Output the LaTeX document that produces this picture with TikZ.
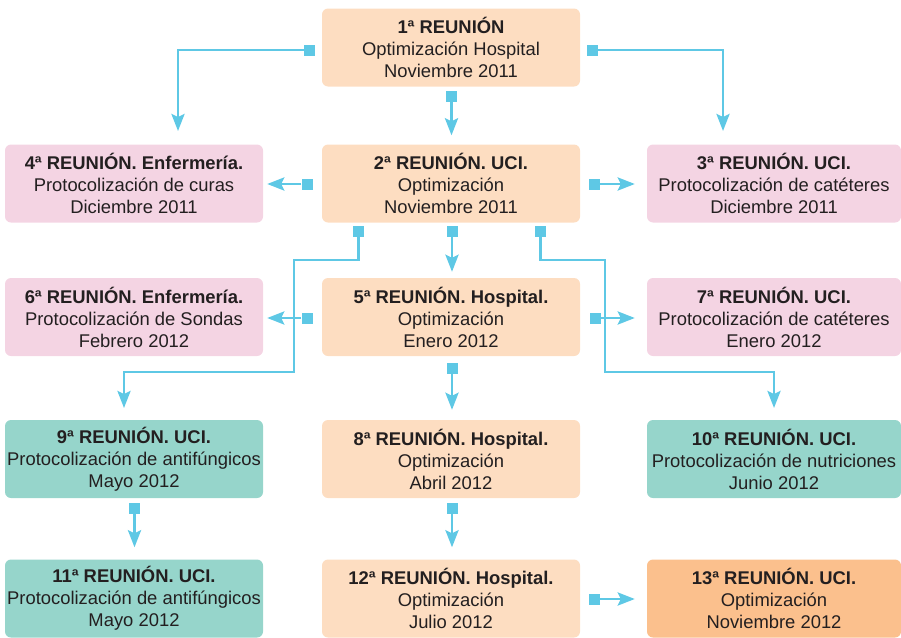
\documentclass[tikz,border=0pt]{standalone}
\usepackage{fontspec}
\setmainfont{Liberation Sans}
\usetikzlibrary{arrows.meta}
\definecolor{peach}{RGB}{253,221,193}
\definecolor{pinkb}{RGB}{244,212,227}
\definecolor{tealb}{RGB}{150,213,203}
\definecolor{orangeb}{RGB}{251,192,141}
\definecolor{connc}{RGB}{94,200,229}
\definecolor{txt}{RGB}{35,31,32}
\tikzset{
  box/.style={rounded corners=6pt, minimum height=78pt, minimum width=258pt,
    align=center, inner sep=0pt, text=txt, font=\fontsize{18.4}{22}\selectfont},
  boxr/.style={box, minimum width=254pt},
  sq/.style={fill=connc, minimum size=11pt, inner sep=0pt, draw=none},
  conn/.style={draw=connc, line width=2.8pt,
    -{Stealth[length=17pt,width=13pt,inset=3pt]}},
}
\begin{document}
\begin{tikzpicture}[x=1pt,y=-1pt]
\useasboundingbox (0,0) rectangle (901,637);
% boxes
\node[box, fill=peach] (b1) at (451,47.5) {\textbf{1ª REUNIÓN}\\Optimización Hospital\\Noviembre 2011};
\node[box, fill=pinkb] (b4) at (134,183.5) {\textbf{4ª REUNIÓN. Enfermería.}\\Protocolización de curas\\Diciembre 2011};
\node[box, fill=peach] (b2) at (451,183.5) {\textbf{2ª REUNIÓN. UCI.}\\Optimización\\Noviembre 2011};
\node[boxr, fill=pinkb] (b3) at (774,183.5) {\textbf{3ª REUNIÓN. UCI.}\\Protocolización de catéteres\\Diciembre 2011};
\node[box, fill=pinkb] (b6) at (134,317) {\textbf{6ª REUNIÓN. Enfermería.}\\Protocolización de Sondas\\Febrero 2012};
\node[box, fill=peach] (b5) at (451,317) {\textbf{5ª REUNIÓN. Hospital.}\\Optimización\\Enero 2012};
\node[boxr, fill=pinkb] (b7) at (774,317) {\textbf{7ª REUNIÓN. UCI.}\\Protocolización de catéteres\\Enero 2012};
\node[box, fill=tealb] (b9) at (134,459) {\textbf{9ª REUNIÓN. UCI.}\\Protocolización de antifúngicos\\Mayo 2012};
\node[box, fill=peach] (b8) at (451,459) {\textbf{8ª REUNIÓN. Hospital.}\\Optimización\\Abril 2012};
\node[boxr, fill=tealb] (b10) at (774,459) {\textbf{10ª REUNIÓN. UCI.}\\Protocolización de nutriciones\\Junio 2012};
\node[box, fill=tealb] (b11) at (134,598.5) {\textbf{11ª REUNIÓN. UCI.}\\Protocolización de antifúngicos\\Mayo 2012};
\node[box, fill=peach] (b12) at (451,598.5) {\textbf{12ª REUNIÓN. Hospital.}\\Optimización\\Julio 2012};
\node[boxr, fill=orangeb] (b13) at (774,598.5) {\textbf{13ª REUNIÓN. UCI.}\\Optimización\\Noviembre 2012};
% square starts
\node[sq] (s14) at (309.5,50) {};
\node[sq] (s12) at (451.5,96) {};
\node[sq] (s13) at (592.5,50) {};
\node[sq] (s24) at (307,184) {};
\node[sq] (s23) at (594.5,184) {};
\node[sq] (s29) at (358.5,231.5) {};
\node[sq] (s25) at (452,231.5) {};
\node[sq] (s210) at (540.5,231.5) {};
\node[sq] (s56) at (307,318) {};
\node[sq] (s57) at (595,318) {};
\node[sq] (s58) at (452,368.5) {};
\node[sq] (s911) at (134.5,508.5) {};
\node[sq] (s812) at (452,508.5) {};
\node[sq] (s1213) at (594,599) {};
% connector waypoints and tips
\coordinate (t14) at (178,131);
\coordinate (t13) at (723,131);
\coordinate (e29a) at (294,260);
\coordinate (e29b) at (124,372);
\coordinate (t29) at (124,408);
\coordinate (e210a) at (605,260);
\coordinate (e210b) at (774,372);
\coordinate (t210) at (774,408);
% connectors
\draw[conn] (s14) -| (t14);
\draw[conn] (s13) -| (t13);
\draw[conn, shorten >=9pt] (s12) -- (s12 |- b2.north);
\draw[conn, shorten >=4pt] (s24) -- (s24 -| b4.east);
\draw[conn, shorten >=12pt] (s23) -- (s23 -| b3.west);
\draw[conn, shorten >=6pt] (s25) -- (s25 |- b5.north);
\draw[conn] (s29) |- (e29a) |- (e29b) -- (t29);
\draw[conn] (s210) |- (e210a) |- (e210b) -- (t210);
\draw[conn, shorten >=4pt] (s56) -- (s56 -| b6.east);
\draw[conn, shorten >=12pt] (s57) -- (s57 -| b7.west);
\draw[conn, shorten >=10pt] (s58) -- (s58 |- b8.north);
\draw[conn, shorten >=12pt] (s911) -- (s911 |- b11.north);
\draw[conn, shorten >=12pt] (s812) -- (s812 |- b12.north);
\draw[conn, shorten >=12pt] (s1213) -- (s1213 -| b13.west);
\end{tikzpicture}
\end{document}
